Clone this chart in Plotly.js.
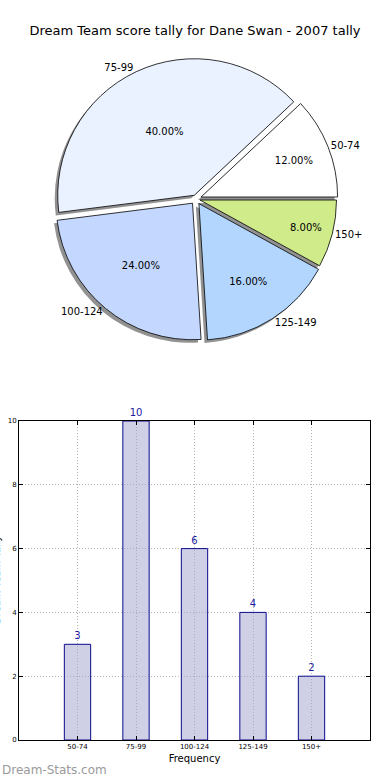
<!DOCTYPE html>
<html>
<head>
<meta charset="utf-8">
<script src="https://cdn.plot.ly/plotly-3.0.1.min.js"></script>
<style>html,body{margin:0;padding:0;background:#fff;}#chart{width:390px;height:780px;}</style>
</head>
<body>
<div id="chart"></div>
<script>
var categories = ["50-74", "75-99", "100-124", "125-149", "150+"];
var counts = [3, 10, 6, 4, 2];
var sliceColors = ["#ffffff", "#eaf1ff", "#c4d8ff", "#b3d6ff", "#d0eb8a"];
var pulls = [0.04, 0.03, 0.04, 0.04, 0.03];
var yTicks = [0, 2, 4, 6, 8, 10];

var F = "DejaVu Sans";
var total = counts.reduce(function(a, b){return a + b;}, 0);
// first slice starts at 3 o'clock and runs counterclockwise (Plotly places the first slice clockwise of "rotation")
var rot = 90 - 360 * counts[0] / total;

var cx = 196, cy = 199, half = 142;
var pieDomain = {x: [(cx - half) / 390, (cx + half) / 390], y: [1 - (cy + half) / 780, 1 - (cy - half) / 780]};
var shadowDomain = {x: [(cx - half - 3) / 390, (cx + half - 3) / 390], y: [1 - (cy + half + 3) / 780, 1 - (cy - half + 3) / 780]};

var common = {type: "pie", labels: categories, values: counts, sort: false, direction: "counterclockwise", rotation: rot, pull: pulls, hoverinfo: "skip", showlegend: false};

var shadow = Object.assign({}, common, {domain: shadowDomain, marker: {colors: categories.map(function(){return "rgba(110,110,110,0.75)";}), line: {width: 0}}, textinfo: "none"});
var main = Object.assign({}, common, {domain: pieDomain, marker: {colors: sliceColors, line: {color: "#000", width: 0.8}}, texttemplate: "%{percent:.2%}", textposition: "inside", insidetextorientation: "horizontal", textfont: {family: F, size: 10, color: "#000"}});
var outer = Object.assign({}, common, {domain: pieDomain, marker: {colors: categories.map(function(){return "rgba(0,0,0,0)";}), line: {width: 0}}, texttemplate: "%{label}", textposition: "outside", textfont: {family: F, size: 10, color: "#000"}, automargin: false});

var bars = {type: "bar", x: categories, y: counts, xaxis: "x", yaxis: "y", width: 0.45,
  marker: {color: "rgba(160,160,205,0.5)", line: {color: "#0a0a8c", width: 1}},
  text: counts.map(String), textposition: "outside", cliponaxis: false,
  textfont: {family: F, size: 10, color: "#1a1aa0"}, hoverinfo: "skip", showlegend: false};

var layout = {
  width: 390, height: 780, margin: {l: 0, r: 0, t: 0, b: 0}, paper_bgcolor: "#fff", plot_bgcolor: "#fff",
  font: {family: F, color: "#000"},
  title: {text: "Dream Team score tally for Dane Swan - 2007 tally", font: {family: F, size: 13, color: "#000"}, x: 0.5, xanchor: "center", y: 1 - 30 / 780, yanchor: "middle"},
  xaxis: {domain: [19 / 390, 370 / 390], anchor: "y", range: [-1, 5], showline: true, linecolor: "#000", linewidth: 1, mirror: "ticks",
    ticks: "inside", ticklen: 4, tickcolor: "#000", tickfont: {family: F, size: 7, color: "#000"},
    showgrid: true, gridcolor: "#b5b5b5", griddash: "1px,2px", gridwidth: 1, zeroline: false, fixedrange: true,
    title: {text: "Frequency", font: {family: F, size: 10, color: "#000"}, standoff: 4}},
  yaxis: {domain: [1 - 740 / 780, 1 - 421 / 780], anchor: "x", range: [0, 10], tickvals: yTicks, showline: true, linecolor: "#000", linewidth: 1, mirror: "ticks",
    ticks: "inside", ticklen: 4, tickcolor: "#000", tickfont: {family: F, size: 7, color: "#000"},
    showgrid: true, gridcolor: "#b5b5b5", griddash: "1px,2px", gridwidth: 1, zeroline: false, fixedrange: true},
  annotations: [
    {text: "Dream-Stats.com", xref: "paper", yref: "paper", x: 0, y: 1 - 770 / 780, xanchor: "left", yanchor: "middle", showarrow: false, font: {family: F, size: 12, color: "#9a9a9a"}},
    {text: "Dream Team Tally", xref: "paper", yref: "paper", x: -4 / 390, y: 1 - 580 / 780, xanchor: "center", yanchor: "middle", textangle: -90, showarrow: false, font: {family: F, size: 10, color: "#000"}}
  ]
};

Plotly.newPlot("chart", [shadow, main, outer, bars], layout, {staticPlot: true, displayModeBar: false});
</script>
</body>
</html>
